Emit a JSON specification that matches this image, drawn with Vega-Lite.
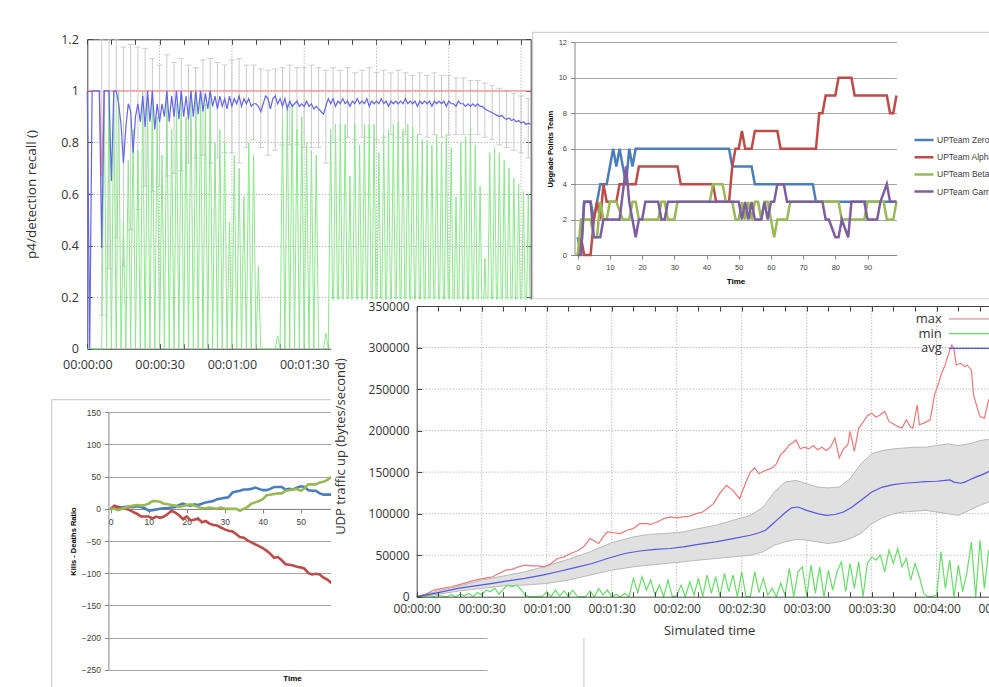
{
"$schema": "https://vega.github.io/schema/vega-lite/v6.json",
"width": 989, "height": 687, "padding": 0, "autosize": {"type": "none"},
"background": "#ffffff",
"config": {"view": {"stroke": null}, "axis": {"labelOverlap": false, "labelFlush": false, "domainWidth": 1, "tickWidth": 1}},
"datasets": {
"A": [{"t":0,"a":1,"m":0},{"t":1,"a":0,"m":0},{"t":2,"a":1,"m":0},{"t":3,"a":1,"m":0},{"t":4,"a":1,"m":0},{"t":5,"a":1,"m":0},{"t":6,"a":0.39,"m":0},{"t":7,"a":1,"m":1},{"t":8,"a":1,"m":0},{"t":9,"a":1,"m":1},{"t":10,"a":0.65,"m":0},{"t":11,"a":1,"m":1},{"t":12,"a":1,"m":0},{"t":13,"a":0.95,"m":1},{"t":14,"a":0.87,"m":0},{"t":15,"a":0.72,"m":0.49},{"t":16,"a":0.86,"m":0},{"t":17,"a":0.95,"m":0.73},{"t":18,"a":0.92,"m":0},{"t":19,"a":0.76,"m":0.85},{"t":20,"a":0.9,"m":0},{"t":21,"a":0.95,"m":0.77},{"t":22,"a":0.88,"m":0},{"t":23,"a":0.98,"m":1},{"t":24,"a":0.86,"m":0},{"t":25,"a":1,"m":1},{"t":26,"a":0.88,"m":0},{"t":27,"a":1,"m":1},{"t":28,"a":0.85,"m":0},{"t":29,"a":0.95,"m":0.9},{"t":30,"a":0.88,"m":0},{"t":31,"a":0.95,"m":0.75},{"t":32,"a":0.9,"m":0},{"t":33,"a":1,"m":1},{"t":34,"a":0.88,"m":0},{"t":35,"a":0.98,"m":0.85},{"t":36,"a":0.9,"m":0},{"t":37,"a":1,"m":0.95},{"t":38,"a":0.89,"m":0},{"t":39,"a":1,"m":1},{"t":40,"a":0.9,"m":0},{"t":41,"a":0.98,"m":0.9},{"t":42,"a":0.89,"m":0},{"t":43,"a":1,"m":1},{"t":44,"a":0.9,"m":0},{"t":45,"a":1,"m":1},{"t":46,"a":0.91,"m":0},{"t":47,"a":1,"m":1},{"t":48,"a":0.92,"m":0},{"t":49,"a":0.99,"m":0.95},{"t":50,"a":0.93,"m":0},{"t":51,"a":1,"m":1},{"t":52,"a":0.94,"m":0},{"t":53,"a":0.98,"m":0.8},{"t":54,"a":0.93,"m":0},{"t":55,"a":0.98,"m":0.85},{"t":56,"a":0.94,"m":0},{"t":57,"a":0.97,"m":0.8},{"t":58,"a":0.93,"m":0},{"t":59,"a":0.98,"m":0.49},{"t":60,"a":0.94,"m":0},{"t":61,"a":0.97,"m":0.75},{"t":62,"a":0.95,"m":0},{"t":63,"a":0.98,"m":0.7},{"t":64,"a":0.94,"m":0},{"t":65,"a":0.97,"m":0.59},{"t":66,"a":0.95,"m":0},{"t":67,"a":0.97,"m":0.8},{"t":68,"a":0.94,"m":0},{"t":69,"a":0.95,"m":0.75},{"t":70,"a":0.95,"m":0},{"t":71,"a":0.94,"m":0.32},{"t":72,"a":0.92,"m":0},{"t":73,"a":0.95,"m":0},{"t":74,"a":0.98,"m":0},{"t":75,"a":0.97,"m":0},{"t":76,"a":0.93,"m":0},{"t":77,"a":0.97,"m":0},{"t":78,"a":0.98,"m":0},{"t":79,"a":0.95,"m":0.05},{"t":80,"a":0.97,"m":0},{"t":81,"a":0.94,"m":0.89},{"t":82,"a":0.97,"m":0},{"t":83,"a":0.93,"m":0.95},{"t":84,"a":0.96,"m":0},{"t":85,"a":0.94,"m":0.95},{"t":86,"a":0.95,"m":0},{"t":87,"a":0.96,"m":0.85},{"t":88,"a":0.94,"m":0},{"t":89,"a":0.95,"m":0.9},{"t":90,"a":0.94,"m":0},{"t":91,"a":0.96,"m":0.8},{"t":92,"a":0.94,"m":0},{"t":93,"a":0.95,"m":0.77},{"t":94,"a":0.93,"m":0},{"t":95,"a":0.94,"m":0.75},{"t":96,"a":0.93,"m":0},{"t":97,"a":0.92,"m":0},{"t":98,"a":0.91,"m":0},{"t":99,"a":0.94,"m":0.06},{"t":100,"a":0.97,"m":0},{"t":101,"a":0.95,"m":0.85},{"t":102,"a":0.97,"m":0},{"t":103,"a":0.94,"m":0.87},{"t":104,"a":0.96,"m":0},{"t":105,"a":0.95,"m":0.87},{"t":106,"a":0.97,"m":0},{"t":107,"a":0.95,"m":0.87},{"t":108,"a":0.96,"m":0},{"t":109,"a":0.94,"m":0.67},{"t":110,"a":0.96,"m":0},{"t":111,"a":0.95,"m":0.87},{"t":112,"a":0.97,"m":0},{"t":113,"a":0.95,"m":0.79},{"t":114,"a":0.96,"m":0},{"t":115,"a":0.95,"m":0.87},{"t":116,"a":0.97,"m":0},{"t":117,"a":0.94,"m":0.87},{"t":118,"a":0.96,"m":0},{"t":119,"a":0.95,"m":0.87},{"t":120,"a":0.96,"m":0},{"t":121,"a":0.95,"m":0.76},{"t":122,"a":0.97,"m":0},{"t":123,"a":0.95,"m":0.83},{"t":124,"a":0.96,"m":0},{"t":125,"a":0.94,"m":0.85},{"t":126,"a":0.96,"m":0},{"t":127,"a":0.95,"m":0.87},{"t":128,"a":0.96,"m":0},{"t":129,"a":0.95,"m":0.88},{"t":130,"a":0.96,"m":0},{"t":131,"a":0.95,"m":0.85},{"t":132,"a":0.97,"m":0},{"t":133,"a":0.95,"m":0.87},{"t":134,"a":0.96,"m":0},{"t":135,"a":0.95,"m":0.86},{"t":136,"a":0.96,"m":0},{"t":137,"a":0.94,"m":0.83},{"t":138,"a":0.96,"m":0},{"t":139,"a":0.95,"m":0.81},{"t":140,"a":0.96,"m":0},{"t":141,"a":0.95,"m":0.81},{"t":142,"a":0.96,"m":0},{"t":143,"a":0.94,"m":0.79},{"t":144,"a":0.96,"m":0},{"t":145,"a":0.95,"m":0.83},{"t":146,"a":0.96,"m":0},{"t":147,"a":0.95,"m":0.8},{"t":148,"a":0.96,"m":0},{"t":149,"a":0.94,"m":0.83},{"t":150,"a":0.96,"m":0},{"t":151,"a":0.95,"m":0.78},{"t":152,"a":0.95,"m":0},{"t":153,"a":0.94,"m":0.59},{"t":154,"a":0.96,"m":0},{"t":155,"a":0.95,"m":0.8},{"t":156,"a":0.95,"m":0},{"t":157,"a":0.94,"m":0.82},{"t":158,"a":0.95,"m":0},{"t":159,"a":0.94,"m":0.86},{"t":160,"a":0.95,"m":0},{"t":161,"a":0.94,"m":0.79},{"t":162,"a":0.95,"m":0},{"t":163,"a":0.94,"m":0.63},{"t":164,"a":0.94,"m":0},{"t":165,"a":0.93,"m":0.35},{"t":166,"a":0.925,"m":0},{"t":167,"a":0.92,"m":0.76},{"t":168,"a":0.915,"m":0},{"t":169,"a":0.91,"m":0.78},{"t":170,"a":0.905,"m":0},{"t":171,"a":0.9,"m":0.76},{"t":172,"a":0.905,"m":0},{"t":173,"a":0.895,"m":0.73},{"t":174,"a":0.89,"m":0},{"t":175,"a":0.895,"m":0.7},{"t":176,"a":0.885,"m":0},{"t":177,"a":0.89,"m":0.66},{"t":178,"a":0.88,"m":0},{"t":179,"a":0.885,"m":0.64},{"t":180,"a":0.875,"m":0},{"t":181,"a":0.88,"m":0.61},{"t":182,"a":0.87,"m":0},{"t":183,"a":0.875,"m":0.6},{"t":184,"a":0.87,"m":0}],
"Ar": [{"t":0,"v":1},{"t":5,"v":1},{"t":6,"v":0.67},{"t":7,"v":1},{"t":184,"v":1}],
"Ag": [{"t":30},{"t":60},{"t":90},{"t":120},{"t":150},{"t":180}],
"Ae": [{"t":6,"lo":0.13,"hi":1.2},{"t":9,"lo":0.31,"hi":1.2},{"t":12,"lo":0.43,"hi":1.2},{"t":15,"lo":0.32,"hi":1.17},{"t":18,"lo":0.46,"hi":1.18},{"t":21,"lo":0.54,"hi":1.17},{"t":24,"lo":0.63,"hi":1.165},{"t":27,"lo":0.61,"hi":1.125},{"t":30,"lo":0.63,"hi":1.1},{"t":33,"lo":0.67,"hi":1.14},{"t":36,"lo":0.68,"hi":1.11},{"t":39,"lo":0.69,"hi":1.125},{"t":42,"lo":0.72,"hi":1.1},{"t":45,"lo":0.74,"hi":1.09},{"t":48,"lo":0.75,"hi":1.12},{"t":51,"lo":0.72,"hi":1.125},{"t":54,"lo":0.74,"hi":1.11},{"t":57,"lo":0.76,"hi":1.1},{"t":60,"lo":0.76,"hi":1.12},{"t":63,"lo":0.72,"hi":1.125},{"t":66,"lo":0.78,"hi":1.1},{"t":69,"lo":0.81,"hi":1.1},{"t":72,"lo":0.78,"hi":1.085},{"t":75,"lo":0.75,"hi":1.08},{"t":78,"lo":0.77,"hi":1.085},{"t":81,"lo":0.79,"hi":1.09},{"t":84,"lo":0.79,"hi":1.1},{"t":87,"lo":0.79,"hi":1.09},{"t":90,"lo":0.78,"hi":1.09},{"t":93,"lo":0.78,"hi":1.1},{"t":96,"lo":0.78,"hi":1.09},{"t":99,"lo":0.72,"hi":1.08},{"t":102,"lo":0.8,"hi":1.09},{"t":105,"lo":0.81,"hi":1.08},{"t":108,"lo":0.82,"hi":1.09},{"t":111,"lo":0.81,"hi":1.07},{"t":114,"lo":0.82,"hi":1.08},{"t":117,"lo":0.82,"hi":1.09},{"t":120,"lo":0.81,"hi":1.07},{"t":123,"lo":0.82,"hi":1.08},{"t":126,"lo":0.83,"hi":1.07},{"t":129,"lo":0.82,"hi":1.08},{"t":132,"lo":0.83,"hi":1.07},{"t":135,"lo":0.82,"hi":1.06},{"t":138,"lo":0.83,"hi":1.07},{"t":141,"lo":0.82,"hi":1.06},{"t":144,"lo":0.83,"hi":1.07},{"t":147,"lo":0.82,"hi":1.06},{"t":150,"lo":0.83,"hi":1.06},{"t":153,"lo":0.83,"hi":1.05},{"t":156,"lo":0.83,"hi":1.05},{"t":159,"lo":0.83,"hi":1.04},{"t":162,"lo":0.83,"hi":1.04},{"t":165,"lo":0.82,"hi":1.03},{"t":168,"lo":0.81,"hi":1.02},{"t":171,"lo":0.79,"hi":1.01},{"t":174,"lo":0.78,"hi":1.0},{"t":177,"lo":0.77,"hi":0.99},{"t":180,"lo":0.76,"hi":0.98},{"t":183,"lo":0.74,"hi":0.97}],
"B": [
{"team":"UPTeam Zero","t":0,"v":1},{"team":"UPTeam Zero","t":1,"v":0},{"team":"UPTeam Zero","t":2,"v":3},{"team":"UPTeam Zero","t":4,"v":3},{"team":"UPTeam Zero","t":5,"v":2},{"team":"UPTeam Zero","t":7,"v":4},{"team":"UPTeam Zero","t":9,"v":4},{"team":"UPTeam Zero","t":11,"v":6},{"team":"UPTeam Zero","t":12,"v":5},{"team":"UPTeam Zero","t":13,"v":6},{"team":"UPTeam Zero","t":15,"v":4},{"team":"UPTeam Zero","t":16,"v":6},{"team":"UPTeam Zero","t":17,"v":5},{"team":"UPTeam Zero","t":18,"v":6},{"team":"UPTeam Zero","t":47,"v":6},{"team":"UPTeam Zero","t":48,"v":5},{"team":"UPTeam Zero","t":54,"v":5},{"team":"UPTeam Zero","t":55,"v":4},{"team":"UPTeam Zero","t":73,"v":4},{"team":"UPTeam Zero","t":74,"v":3},{"team":"UPTeam Zero","t":99,"v":3},
{"team":"UPTeam Alpha","t":0,"v":0},{"team":"UPTeam Alpha","t":1,"v":1},{"team":"UPTeam Alpha","t":2,"v":0},{"team":"UPTeam Alpha","t":4,"v":0},{"team":"UPTeam Alpha","t":5,"v":2},{"team":"UPTeam Alpha","t":6,"v":3},{"team":"UPTeam Alpha","t":7,"v":2},{"team":"UPTeam Alpha","t":8,"v":4},{"team":"UPTeam Alpha","t":9,"v":3},{"team":"UPTeam Alpha","t":12,"v":3},{"team":"UPTeam Alpha","t":13,"v":4},{"team":"UPTeam Alpha","t":18,"v":4},{"team":"UPTeam Alpha","t":19,"v":5},{"team":"UPTeam Alpha","t":31,"v":5},{"team":"UPTeam Alpha","t":32,"v":4},{"team":"UPTeam Alpha","t":42,"v":4},{"team":"UPTeam Alpha","t":43,"v":3},{"team":"UPTeam Alpha","t":47,"v":3},{"team":"UPTeam Alpha","t":48,"v":5},{"team":"UPTeam Alpha","t":49,"v":6},{"team":"UPTeam Alpha","t":50,"v":6},{"team":"UPTeam Alpha","t":51,"v":7},{"team":"UPTeam Alpha","t":52,"v":6},{"team":"UPTeam Alpha","t":54,"v":6},{"team":"UPTeam Alpha","t":55,"v":7},{"team":"UPTeam Alpha","t":62,"v":7},{"team":"UPTeam Alpha","t":63,"v":6},{"team":"UPTeam Alpha","t":74,"v":6},{"team":"UPTeam Alpha","t":75,"v":8},{"team":"UPTeam Alpha","t":76,"v":8},{"team":"UPTeam Alpha","t":77,"v":9},{"team":"UPTeam Alpha","t":80,"v":9},{"team":"UPTeam Alpha","t":81,"v":10},{"team":"UPTeam Alpha","t":85,"v":10},{"team":"UPTeam Alpha","t":86,"v":9},{"team":"UPTeam Alpha","t":96,"v":9},{"team":"UPTeam Alpha","t":97,"v":8},{"team":"UPTeam Alpha","t":98,"v":8},{"team":"UPTeam Alpha","t":99,"v":9},
{"team":"UPTeam Beta","t":0,"v":0},{"team":"UPTeam Beta","t":1,"v":2},{"team":"UPTeam Beta","t":4,"v":2},{"team":"UPTeam Beta","t":5,"v":1},{"team":"UPTeam Beta","t":6,"v":1},{"team":"UPTeam Beta","t":7,"v":3},{"team":"UPTeam Beta","t":8,"v":2},{"team":"UPTeam Beta","t":9,"v":2},{"team":"UPTeam Beta","t":10,"v":3},{"team":"UPTeam Beta","t":12,"v":3},{"team":"UPTeam Beta","t":14,"v":2},{"team":"UPTeam Beta","t":16,"v":2},{"team":"UPTeam Beta","t":17,"v":3},{"team":"UPTeam Beta","t":18,"v":3},{"team":"UPTeam Beta","t":19,"v":2},{"team":"UPTeam Beta","t":25,"v":2},{"team":"UPTeam Beta","t":26,"v":3},{"team":"UPTeam Beta","t":27,"v":3},{"team":"UPTeam Beta","t":28,"v":2},{"team":"UPTeam Beta","t":30,"v":2},{"team":"UPTeam Beta","t":31,"v":3},{"team":"UPTeam Beta","t":41,"v":3},{"team":"UPTeam Beta","t":42,"v":4},{"team":"UPTeam Beta","t":45,"v":4},{"team":"UPTeam Beta","t":46,"v":3},{"team":"UPTeam Beta","t":48,"v":3},{"team":"UPTeam Beta","t":49,"v":2},{"team":"UPTeam Beta","t":50,"v":2},{"team":"UPTeam Beta","t":51,"v":3},{"team":"UPTeam Beta","t":52,"v":2},{"team":"UPTeam Beta","t":53,"v":3},{"team":"UPTeam Beta","t":54,"v":2},{"team":"UPTeam Beta","t":55,"v":3},{"team":"UPTeam Beta","t":56,"v":3},{"team":"UPTeam Beta","t":57,"v":2},{"team":"UPTeam Beta","t":58,"v":3},{"team":"UPTeam Beta","t":59,"v":3},{"team":"UPTeam Beta","t":60,"v":2},{"team":"UPTeam Beta","t":61,"v":1},{"team":"UPTeam Beta","t":62,"v":2},{"team":"UPTeam Beta","t":65,"v":2},{"team":"UPTeam Beta","t":66,"v":3},{"team":"UPTeam Beta","t":81,"v":3},{"team":"UPTeam Beta","t":82,"v":2},{"team":"UPTeam Beta","t":89,"v":2},{"team":"UPTeam Beta","t":90,"v":3},{"team":"UPTeam Beta","t":95,"v":3},{"team":"UPTeam Beta","t":96,"v":2},{"team":"UPTeam Beta","t":98,"v":2},{"team":"UPTeam Beta","t":99,"v":3},
{"team":"UPTeam Gamma","t":0,"v":0},{"team":"UPTeam Gamma","t":1,"v":0},{"team":"UPTeam Gamma","t":2,"v":3},{"team":"UPTeam Gamma","t":4,"v":3},{"team":"UPTeam Gamma","t":5,"v":1},{"team":"UPTeam Gamma","t":7,"v":1},{"team":"UPTeam Gamma","t":8,"v":2},{"team":"UPTeam Gamma","t":13,"v":2},{"team":"UPTeam Gamma","t":15,"v":5},{"team":"UPTeam Gamma","t":16,"v":3},{"team":"UPTeam Gamma","t":17,"v":2},{"team":"UPTeam Gamma","t":18,"v":1},{"team":"UPTeam Gamma","t":19,"v":2},{"team":"UPTeam Gamma","t":20,"v":2},{"team":"UPTeam Gamma","t":21,"v":3},{"team":"UPTeam Gamma","t":25,"v":3},{"team":"UPTeam Gamma","t":26,"v":2},{"team":"UPTeam Gamma","t":27,"v":2},{"team":"UPTeam Gamma","t":28,"v":3},{"team":"UPTeam Gamma","t":50,"v":3},{"team":"UPTeam Gamma","t":51,"v":2},{"team":"UPTeam Gamma","t":52,"v":3},{"team":"UPTeam Gamma","t":53,"v":2},{"team":"UPTeam Gamma","t":54,"v":3},{"team":"UPTeam Gamma","t":55,"v":2},{"team":"UPTeam Gamma","t":57,"v":2},{"team":"UPTeam Gamma","t":58,"v":3},{"team":"UPTeam Gamma","t":59,"v":2},{"team":"UPTeam Gamma","t":60,"v":3},{"team":"UPTeam Gamma","t":61,"v":3},{"team":"UPTeam Gamma","t":62,"v":4},{"team":"UPTeam Gamma","t":64,"v":4},{"team":"UPTeam Gamma","t":65,"v":3},{"team":"UPTeam Gamma","t":76,"v":3},{"team":"UPTeam Gamma","t":77,"v":2},{"team":"UPTeam Gamma","t":78,"v":2},{"team":"UPTeam Gamma","t":80,"v":1},{"team":"UPTeam Gamma","t":81,"v":1},{"team":"UPTeam Gamma","t":82,"v":2},{"team":"UPTeam Gamma","t":84,"v":1},{"team":"UPTeam Gamma","t":85,"v":3},{"team":"UPTeam Gamma","t":89,"v":3},{"team":"UPTeam Gamma","t":90,"v":2},{"team":"UPTeam Gamma","t":93,"v":2},{"team":"UPTeam Gamma","t":94,"v":3},{"team":"UPTeam Gamma","t":96,"v":4},{"team":"UPTeam Gamma","t":97,"v":3},{"team":"UPTeam Gamma","t":99,"v":3}],
"C": [{"t":0,"b":0,"g":0,"r":0},{"t":1,"b":1,"g":0,"r":5},{"t":2,"b":2,"g":-2,"r":3},{"t":3,"b":2,"g":0,"r":1},{"t":4,"b":3,"g":2,"r":0},{"t":5,"b":3,"g":4,"r":-2},{"t":6,"b":3,"g":5,"r":-5},{"t":7,"b":4,"g":6,"r":-8},{"t":8,"b":3,"g":5,"r":-12},{"t":9,"b":1,"g":6,"r":-12},{"t":10,"b":-3,"g":8,"r":-12},{"t":11,"b":-2,"g":12,"r":-15},{"t":12,"b":-1,"g":12,"r":-12},{"t":13,"b":0,"g":11,"r":-14},{"t":14,"b":1,"g":8,"r":-12},{"t":15,"b":1,"g":7,"r":-8},{"t":16,"b":2,"g":6,"r":-3},{"t":17,"b":3,"g":5,"r":-6},{"t":18,"b":6,"g":3,"r":-10},{"t":19,"b":8,"g":4,"r":-16},{"t":20,"b":6,"g":6,"r":-12},{"t":21,"b":5,"g":7,"r":-18},{"t":22,"b":7,"g":5,"r":-17},{"t":23,"b":6,"g":3,"r":-15},{"t":24,"b":8,"g":1,"r":-21},{"t":25,"b":10,"g":1,"r":-19},{"t":26,"b":11,"g":2,"r":-23},{"t":27,"b":12,"g":1,"r":-25},{"t":28,"b":15,"g":0,"r":-26},{"t":29,"b":16,"g":2,"r":-29},{"t":30,"b":17,"g":0,"r":-32},{"t":31,"b":18,"g":0,"r":-34},{"t":32,"b":25,"g":0,"r":-35},{"t":33,"b":27,"g":0,"r":-39},{"t":34,"b":28,"g":-3,"r":-44},{"t":35,"b":30,"g":0,"r":-45},{"t":36,"b":30,"g":3,"r":-49},{"t":37,"b":31,"g":8,"r":-52},{"t":38,"b":33,"g":10,"r":-55},{"t":39,"b":31,"g":12,"r":-58},{"t":40,"b":29,"g":15,"r":-61},{"t":41,"b":29,"g":21,"r":-65},{"t":42,"b":31,"g":22,"r":-70},{"t":43,"b":34,"g":23,"r":-76},{"t":44,"b":34,"g":24,"r":-75},{"t":45,"b":34,"g":24,"r":-80},{"t":46,"b":30,"g":28,"r":-86},{"t":47,"b":31,"g":29,"r":-87},{"t":48,"b":30,"g":30,"r":-88},{"t":49,"b":33,"g":31,"r":-90},{"t":50,"b":35,"g":28,"r":-91},{"t":51,"b":34,"g":32,"r":-93},{"t":52,"b":29,"g":38,"r":-100},{"t":53,"b":28,"g":38,"r":-102},{"t":54,"b":28,"g":38,"r":-101},{"t":55,"b":24,"g":41,"r":-102},{"t":56,"b":22,"g":42,"r":-107},{"t":57,"b":22,"g":45,"r":-110},{"t":58,"b":22,"g":49,"r":-115},{"t":59,"b":22,"g":50,"r":-117},{"t":60,"b":22,"g":52,"r":-120}],
"Dg": [{"t":30},{"t":60},{"t":90},{"t":120},{"t":150},{"t":180},{"t":210},{"t":240},{"t":270}],
"Dgy": [{"v":50000},{"v":100000},{"v":150000},{"v":200000},{"v":250000},{"v":300000}],
"Dl": [{"s":"max","t":0,"v":0},{"s":"max","t":4,"v":3000},{"s":"max","t":8,"v":8000},{"s":"max","t":12,"v":10000},{"s":"max","t":16,"v":12000},{"s":"max","t":19,"v":14000},{"s":"max","t":23,"v":17000},{"s":"max","t":27,"v":20000},{"s":"max","t":31,"v":22000},{"s":"max","t":35,"v":24000},{"s":"max","t":38,"v":28000},{"s":"max","t":41,"v":32000},{"s":"max","t":44,"v":33000},{"s":"max","t":47,"v":36000},{"s":"max","t":50,"v":38000},{"s":"max","t":53,"v":37000},{"s":"max","t":56,"v":37000},{"s":"max","t":59,"v":36000},{"s":"max","t":62,"v":40000},{"s":"max","t":65,"v":46000},{"s":"max","t":68,"v":48000},{"s":"max","t":71,"v":52000},{"s":"max","t":74,"v":55000},{"s":"max","t":77,"v":60000},{"s":"max","t":80,"v":70000},{"s":"max","t":82,"v":67000},{"s":"max","t":84,"v":64000},{"s":"max","t":86,"v":72000},{"s":"max","t":88,"v":78000},{"s":"max","t":91,"v":77000},{"s":"max","t":94,"v":76000},{"s":"max","t":97,"v":80000},{"s":"max","t":100,"v":82000},{"s":"max","t":103,"v":88000},{"s":"max","t":106,"v":88000},{"s":"max","t":108,"v":87000},{"s":"max","t":111,"v":90000},{"s":"max","t":114,"v":94000},{"s":"max","t":117,"v":96000},{"s":"max","t":120,"v":95000},{"s":"max","t":123,"v":96000},{"s":"max","t":126,"v":97000},{"s":"max","t":129,"v":100000},{"s":"max","t":132,"v":102000},{"s":"max","t":135,"v":108000},{"s":"max","t":137,"v":112000},{"s":"max","t":140,"v":125000},{"s":"max","t":143,"v":134000},{"s":"max","t":146,"v":128000},{"s":"max","t":149,"v":118000},{"s":"max","t":152,"v":138000},{"s":"max","t":154,"v":150000},{"s":"max","t":156,"v":155000},{"s":"max","t":158,"v":148000},{"s":"max","t":160,"v":151000},{"s":"max","t":162,"v":153000},{"s":"max","t":164,"v":155000},{"s":"max","t":166,"v":160000},{"s":"max","t":168,"v":171000},{"s":"max","t":170,"v":176000},{"s":"max","t":172,"v":183000},{"s":"max","t":174,"v":186000},{"s":"max","t":175,"v":189000},{"s":"max","t":177,"v":178000},{"s":"max","t":179,"v":180000},{"s":"max","t":181,"v":178000},{"s":"max","t":183,"v":182000},{"s":"max","t":185,"v":177000},{"s":"max","t":187,"v":180000},{"s":"max","t":189,"v":176000},{"s":"max","t":191,"v":180000},{"s":"max","t":193,"v":191000},{"s":"max","t":195,"v":167000},{"s":"max","t":197,"v":178000},{"s":"max","t":199,"v":183000},{"s":"max","t":200,"v":199000},{"s":"max","t":202,"v":175000},{"s":"max","t":204,"v":203000},{"s":"max","t":206,"v":210000},{"s":"max","t":208,"v":218000},{"s":"max","t":210,"v":221000},{"s":"max","t":212,"v":216000},{"s":"max","t":214,"v":219000},{"s":"max","t":216,"v":223000},{"s":"max","t":218,"v":211000},{"s":"max","t":220,"v":208000},{"s":"max","t":222,"v":205000},{"s":"max","t":224,"v":203000},{"s":"max","t":226,"v":213000},{"s":"max","t":228,"v":204000},{"s":"max","t":229,"v":203000},{"s":"max","t":231,"v":231000},{"s":"max","t":232,"v":207000},{"s":"max","t":234,"v":209000},{"s":"max","t":237,"v":213000},{"s":"max","t":239,"v":243000},{"s":"max","t":241,"v":258000},{"s":"max","t":242,"v":267000},{"s":"max","t":244,"v":280000},{"s":"max","t":245,"v":289000},{"s":"max","t":247,"v":303000},{"s":"max","t":248,"v":298000},{"s":"max","t":249,"v":279000},{"s":"max","t":251,"v":281000},{"s":"max","t":253,"v":277000},{"s":"max","t":254,"v":279000},{"s":"max","t":256,"v":273000},{"s":"max","t":257,"v":243000},{"s":"max","t":259,"v":225000},{"s":"max","t":260,"v":217000},{"s":"max","t":262,"v":215000},{"s":"max","t":264,"v":237000},{"s":"max","t":266,"v":245000},
{"s":"min","t":0,"v":0},{"s":"min","t":2,"v":500},{"s":"min","t":4,"v":0},{"s":"min","t":6,"v":1500},{"s":"min","t":8,"v":0},{"s":"min","t":10,"v":2000},{"s":"min","t":12,"v":500},{"s":"min","t":14,"v":0},{"s":"min","t":16,"v":2500},{"s":"min","t":18,"v":0},{"s":"min","t":20,"v":3000},{"s":"min","t":22,"v":1000},{"s":"min","t":24,"v":4000},{"s":"min","t":26,"v":0},{"s":"min","t":28,"v":5000},{"s":"min","t":30,"v":2000},{"s":"min","t":32,"v":8000},{"s":"min","t":34,"v":6000},{"s":"min","t":36,"v":10000},{"s":"min","t":38,"v":3000},{"s":"min","t":40,"v":9000},{"s":"min","t":42,"v":14000},{"s":"min","t":44,"v":12000},{"s":"min","t":46,"v":14000},{"s":"min","t":48,"v":9000},{"s":"min","t":50,"v":2000},{"s":"min","t":52,"v":0},{"s":"min","t":54,"v":0},{"s":"min","t":56,"v":500},{"s":"min","t":58,"v":0},{"s":"min","t":60,"v":6000},{"s":"min","t":62,"v":0},{"s":"min","t":64,"v":8000},{"s":"min","t":66,"v":1000},{"s":"min","t":68,"v":7000},{"s":"min","t":70,"v":0},{"s":"min","t":72,"v":8000},{"s":"min","t":74,"v":500},{"s":"min","t":76,"v":0},{"s":"min","t":78,"v":0},{"s":"min","t":80,"v":7000},{"s":"min","t":82,"v":0},{"s":"min","t":84,"v":10000},{"s":"min","t":86,"v":2000},{"s":"min","t":88,"v":8000},{"s":"min","t":90,"v":0},{"s":"min","t":92,"v":3000},{"s":"min","t":94,"v":0},{"s":"min","t":96,"v":4000},{"s":"min","t":98,"v":0},{"s":"min","t":100,"v":22000},{"s":"min","t":102,"v":5000},{"s":"min","t":104,"v":24000},{"s":"min","t":106,"v":8000},{"s":"min","t":108,"v":20000},{"s":"min","t":110,"v":2000},{"s":"min","t":112,"v":14000},{"s":"min","t":114,"v":0},{"s":"min","t":116,"v":20000},{"s":"min","t":118,"v":0},{"s":"min","t":120,"v":1000},{"s":"min","t":122,"v":14000},{"s":"min","t":124,"v":0},{"s":"min","t":126,"v":18000},{"s":"min","t":128,"v":2000},{"s":"min","t":130,"v":22000},{"s":"min","t":132,"v":0},{"s":"min","t":134,"v":26000},{"s":"min","t":136,"v":4000},{"s":"min","t":138,"v":24000},{"s":"min","t":140,"v":0},{"s":"min","t":142,"v":28000},{"s":"min","t":144,"v":6000},{"s":"min","t":146,"v":26000},{"s":"min","t":148,"v":0},{"s":"min","t":150,"v":30000},{"s":"min","t":152,"v":0},{"s":"min","t":154,"v":0},{"s":"min","t":156,"v":30000},{"s":"min","t":158,"v":5000},{"s":"min","t":160,"v":22000},{"s":"min","t":162,"v":2000},{"s":"min","t":164,"v":10000},{"s":"min","t":166,"v":0},{"s":"min","t":168,"v":16000},{"s":"min","t":170,"v":2000},{"s":"min","t":172,"v":34000},{"s":"min","t":174,"v":0},{"s":"min","t":176,"v":30000},{"s":"min","t":178,"v":36000},{"s":"min","t":180,"v":0},{"s":"min","t":182,"v":38000},{"s":"min","t":184,"v":4000},{"s":"min","t":186,"v":36000},{"s":"min","t":188,"v":0},{"s":"min","t":190,"v":32000},{"s":"min","t":192,"v":8000},{"s":"min","t":194,"v":30000},{"s":"min","t":196,"v":42000},{"s":"min","t":198,"v":6000},{"s":"min","t":200,"v":40000},{"s":"min","t":202,"v":10000},{"s":"min","t":204,"v":42000},{"s":"min","t":206,"v":0},{"s":"min","t":208,"v":40000},{"s":"min","t":210,"v":48000},{"s":"min","t":212,"v":44000},{"s":"min","t":214,"v":50000},{"s":"min","t":216,"v":30000},{"s":"min","t":218,"v":56000},{"s":"min","t":220,"v":40000},{"s":"min","t":222,"v":58000},{"s":"min","t":224,"v":36000},{"s":"min","t":226,"v":46000},{"s":"min","t":228,"v":20000},{"s":"min","t":230,"v":40000},{"s":"min","t":232,"v":24000},{"s":"min","t":234,"v":4000},{"s":"min","t":236,"v":0},{"s":"min","t":238,"v":0},{"s":"min","t":240,"v":2000},{"s":"min","t":242,"v":54000},{"s":"min","t":244,"v":10000},{"s":"min","t":246,"v":44000},{"s":"min","t":248,"v":0},{"s":"min","t":250,"v":38000},{"s":"min","t":252,"v":6000},{"s":"min","t":254,"v":30000},{"s":"min","t":256,"v":66000},{"s":"min","t":258,"v":0},{"s":"min","t":260,"v":68000},{"s":"min","t":262,"v":10000},{"s":"min","t":264,"v":56000},
{"s":"avg","t":0,"v":0},{"s":"avg","t":10,"v":5000},{"s":"avg","t":19,"v":10000},{"s":"avg","t":27,"v":13000},{"s":"avg","t":35,"v":16000},{"s":"avg","t":42,"v":19000},{"s":"avg","t":50,"v":22000},{"s":"avg","t":58,"v":26000},{"s":"avg","t":65,"v":30000},{"s":"avg","t":73,"v":35000},{"s":"avg","t":81,"v":40000},{"s":"avg","t":88,"v":46000},{"s":"avg","t":96,"v":52000},{"s":"avg","t":103,"v":55000},{"s":"avg","t":110,"v":57000},{"s":"avg","t":117,"v":58000},{"s":"avg","t":123,"v":60000},{"s":"avg","t":130,"v":63000},{"s":"avg","t":138,"v":66000},{"s":"avg","t":146,"v":70000},{"s":"avg","t":154,"v":74000},{"s":"avg","t":158,"v":77000},{"s":"avg","t":161,"v":80000},{"s":"avg","t":164,"v":87000},{"s":"avg","t":167,"v":94000},{"s":"avg","t":170,"v":101000},{"s":"avg","t":173,"v":107000},{"s":"avg","t":176,"v":108000},{"s":"avg","t":180,"v":104000},{"s":"avg","t":185,"v":100000},{"s":"avg","t":189,"v":98000},{"s":"avg","t":193,"v":99000},{"s":"avg","t":197,"v":102000},{"s":"avg","t":201,"v":108000},{"s":"avg","t":206,"v":118000},{"s":"avg","t":210,"v":126000},{"s":"avg","t":215,"v":132000},{"s":"avg","t":220,"v":135000},{"s":"avg","t":225,"v":136600},{"s":"avg","t":230,"v":137500},{"s":"avg","t":235,"v":138600},{"s":"avg","t":240,"v":139000},{"s":"avg","t":244,"v":140000},{"s":"avg","t":246,"v":140600},{"s":"avg","t":248,"v":138000},{"s":"avg","t":251,"v":136600},{"s":"avg","t":253,"v":138000},{"s":"avg","t":255,"v":140600},{"s":"avg","t":258,"v":144000},{"s":"avg","t":261,"v":147000},{"s":"avg","t":264,"v":150600},{"s":"avg","t":267,"v":153000}],
"Dband": [{"t":0,"lo":0,"hi":0},{"t":10,"lo":3000,"hi":7000},{"t":20,"lo":7000,"hi":13000},{"t":30,"lo":10000,"hi":20000},{"t":40,"lo":13000,"hi":25000},{"t":50,"lo":14000,"hi":30000},{"t":60,"lo":16000,"hi":37000},{"t":70,"lo":20000,"hi":45000},{"t":80,"lo":26000,"hi":54000},{"t":90,"lo":32000,"hi":65000},{"t":100,"lo":36000,"hi":72000},{"t":107,"lo":38000,"hi":75000},{"t":115,"lo":40000,"hi":76000},{"t":123,"lo":42000,"hi":78000},{"t":130,"lo":44000,"hi":82000},{"t":138,"lo":46000,"hi":86000},{"t":146,"lo":48000,"hi":92000},{"t":154,"lo":50000,"hi":98000},{"t":160,"lo":54000,"hi":108000},{"t":165,"lo":62000,"hi":126000},{"t":170,"lo":66000,"hi":138000},{"t":175,"lo":69000,"hi":140000},{"t":180,"lo":68000,"hi":136000},{"t":185,"lo":66000,"hi":132000},{"t":190,"lo":64000,"hi":131000},{"t":195,"lo":66000,"hi":132000},{"t":200,"lo":70000,"hi":142000},{"t":205,"lo":76000,"hi":160000},{"t":210,"lo":88000,"hi":172000},{"t":215,"lo":95000,"hi":176000},{"t":220,"lo":100000,"hi":178000},{"t":225,"lo":102000,"hi":179000},{"t":230,"lo":103000,"hi":180000},{"t":235,"lo":104000,"hi":180000},{"t":240,"lo":102000,"hi":182000},{"t":245,"lo":100000,"hi":184000},{"t":250,"lo":98000,"hi":182000},{"t":255,"lo":104000,"hi":184000},{"t":260,"lo":110000,"hi":188000},{"t":265,"lo":115000,"hi":190000}]
},
"resolve": {"scale": {"x": "independent", "y": "independent", "color": "independent"}, "axis": {"x": "independent", "y": "independent"}, "legend": {"color": "independent"}},
"layer": [
{
 "resolve": {"axis": {"x": "independent", "y": "independent"}},
 "layer": [
  {"data": {"name": "Ag"}, "mark": {"type": "rule", "color": "#a0a0a0", "strokeWidth": 1, "strokeDash": [1, 2]},
   "encoding": {
    "x": {"field": "t", "type": "quantitative", "scale": {"domain": [0, 184], "range": [87.3, 530.7], "nice": false, "zero": false},
      "axis": {"orient": "bottom", "offset": -338.3, "values": [0,10,20,30,40,50,60,70,80,90,100,110,120,130,140,150,160,170,180], "labelExpr": "datum.value % 30 == 0 && datum.value <= 90 ? '00:0' + floor(datum.value / 60) + ':' + (datum.value % 60 == 0 ? '00' : '30') : ''", "tickSize": -5, "labelPadding": 15, "labelFont": "Open Sans", "labelFontSize": 12.5, "labelColor": "#333333", "domainColor": "#444444", "tickColor": "#444444", "grid": false, "title": null}},
    "y": {"datum": 0, "type": "quantitative", "scale": {"domain": [0, 1.2], "range": [348.7, 39.3], "nice": false, "zero": false},
      "axis": {"orient": "left", "offset": -87.3, "values": [0, 0.2, 0.4, 0.6, 0.8, 1, 1.2], "format": "~g", "tickSize": -5, "labelPadding": 14, "labelFont": "Open Sans", "labelFontSize": 12.5, "labelColor": "#333333", "domainColor": "#444444", "tickColor": "#444444", "grid": true, "gridColor": "#a0a0a0", "gridDash": [1, 2], "title": "p4/detection recall ()", "titleFont": "Open Sans", "titleFontSize": 13.5, "titleFontWeight": "normal", "titleColor": "#333333", "titleX": -56, "titleBaseline": "middle"}},
    "y2": {"datum": 1.2}
   }},
  {"data": {"name": "Ae"}, "mark": {"type": "rule", "color": "#c9c9c9", "strokeWidth": 1},
   "encoding": {"x": {"field": "t", "type": "quantitative", "axis": null}, "y": {"field": "lo", "type": "quantitative", "axis": null}, "y2": {"field": "hi"}}},
  {"data": {"name": "Ae"}, "mark": {"type": "tick", "orient": "horizontal", "color": "#bdbdbd", "size": 6, "thickness": 1},
   "encoding": {"x": {"field": "t", "type": "quantitative", "axis": null}, "y": {"field": "lo", "type": "quantitative", "axis": null}}},
  {"data": {"name": "Ae"}, "mark": {"type": "tick", "orient": "horizontal", "color": "#bdbdbd", "size": 6, "thickness": 1},
   "encoding": {"x": {"field": "t", "type": "quantitative", "axis": null}, "y": {"field": "hi", "type": "quantitative", "axis": null}}},
  {"data": {"name": "A"}, "mark": {"type": "line", "color": "#8de68d", "strokeWidth": 1},
   "encoding": {"x": {"field": "t", "type": "quantitative", "axis": null}, "y": {"field": "m", "type": "quantitative", "axis": null}}},
  {"data": {"name": "Ar"}, "mark": {"type": "line", "color": "#ff8c8c", "strokeWidth": 1.4},
   "encoding": {
    "x": {"field": "t", "type": "quantitative", "axis": {"orient": "top", "offset": -39.3, "values": [0,10,20,30,40,50,60,70,80,90,100,110,120,130,140,150,160,170,180], "labels": false, "tickSize": -5, "domainColor": "#444444", "tickColor": "#444444", "grid": false, "title": null}},
    "y": {"field": "v", "type": "quantitative", "axis": {"orient": "right", "offset": -458.3, "values": [0, 0.2, 0.4, 0.6, 0.8, 1, 1.2], "labels": false, "tickSize": -5, "grid": false, "domainColor": "#444444", "tickColor": "#444444", "title": null}}}},
  {"data": {"name": "A"}, "mark": {"type": "line", "color": "#6464ec", "strokeWidth": 1.2},
   "encoding": {"x": {"field": "t", "type": "quantitative", "axis": null}, "y": {"field": "a", "type": "quantitative", "axis": null}}}
 ]
},
{
 "resolve": {"axis": {"x": "independent", "y": "independent"}},
 "layer": [
  {"data": {"values": [{}]}, "mark": {"type": "rect", "fill": "transparent", "stroke": "#c4c4c4", "strokeWidth": 1},
   "encoding": {
    "x": {"datum": -15.5, "type": "quantitative", "scale": {"domain": [-0.6, 99], "range": [108.4, 487], "nice": false, "zero": false},
      "axis": {"orient": "bottom", "offset": -178.1, "values": [0,10,20,30,40,50], "tickSize": 4, "labelPadding": 5, "labelFont": "Liberation Sans", "labelFontSize": 8.5, "labelColor": "#404040", "domainColor": "#868686", "tickColor": "#868686", "grid": false, "title": "Time", "titleFont": "Liberation Sans", "titleFontSize": 8, "titleFontWeight": "bold", "titleColor": "#000000", "titleX": 292, "titleY": 169.4, "titleBaseline": "middle"}},
    "x2": {"datum": 124.5},
    "y": {"datum": -297, "type": "quantitative", "scale": {"domain": [-250, 150], "range": [669.7, 412.3], "nice": false, "zero": false},
      "axis": {"orient": "left", "offset": -108.4, "values": [-250,-200,-150,-100,-50,0,50,100,150], "tickSize": 4, "labelPadding": 4, "labelFont": "Liberation Sans", "labelFontSize": 8.5, "labelColor": "#404040", "domainColor": "#868686", "tickColor": "#868686", "grid": true, "gridColor": "#a6a6a6", "title": "Kills - Deaths Ratio", "titleFont": "Liberation Sans", "titleFontSize": 7.5, "titleFontWeight": "bold", "titleColor": "#000000", "titleX": -35, "titleBaseline": "middle"}},
    "y2": {"datum": 169.6}
   }},
  {"data": {"name": "C"}, "mark": {"type": "line", "color": "#4a7ebb", "strokeWidth": 2.6},
   "encoding": {"x": {"field": "t", "type": "quantitative", "axis": null}, "y": {"field": "b", "type": "quantitative", "axis": null}}},
  {"data": {"name": "C"}, "mark": {"type": "line", "color": "#be4b48", "strokeWidth": 2.6},
   "encoding": {"x": {"field": "t", "type": "quantitative", "axis": null}, "y": {"field": "r", "type": "quantitative", "axis": null}}},
  {"data": {"name": "C"}, "mark": {"type": "line", "color": "#98b954", "strokeWidth": 2.6},
   "encoding": {"x": {"field": "t", "type": "quantitative", "axis": null}, "y": {"field": "g", "type": "quantitative", "axis": null}}}
 ]
},
{
 "resolve": {"axis": {"x": "independent", "y": "independent"}},
 "layer": [
  {"data": {"values": [{}]}, "mark": {"type": "rect", "fill": "transparent", "stroke": "#c4c4c4", "strokeWidth": 1},
   "encoding": {
    "x": {"datum": -13.98, "type": "quantitative", "scale": {"domain": [-1, 99], "range": [574.5, 896.5], "nice": false, "zero": false},
      "axis": {"orient": "bottom", "offset": -432, "values": [0,10,20,30,40,50,60,70,80,90], "tickSize": 4, "labelPadding": 4, "labelFont": "Liberation Sans", "labelFontSize": 7.5, "labelColor": "#404040", "domainColor": "#868686", "tickColor": "#868686", "grid": false, "title": "Time", "titleFont": "Liberation Sans", "titleFontSize": 8, "titleFontWeight": "bold", "titleColor": "#000000", "titleY": 26.7, "titleBaseline": "middle"}},
    "x2": {"datum": 162},
    "y": {"datum": -2.48, "type": "quantitative", "scale": {"domain": [0, 12], "range": [255, 42.4], "nice": false, "zero": false},
      "axis": {"orient": "left", "offset": -574.5, "values": [0,2,4,6,8,10,12], "tickSize": 4, "labelPadding": 4, "labelFont": "Liberation Sans", "labelFontSize": 7.5, "labelColor": "#404040", "domainColor": "#868686", "tickColor": "#868686", "grid": true, "gridColor": "#a6a6a6", "title": "Upgrade Points Team", "titleFont": "Liberation Sans", "titleFontSize": 7.5, "titleFontWeight": "bold", "titleColor": "#000000", "titleX": -24.5, "titleBaseline": "middle"}},
    "y2": {"datum": 12.57}
   }},
  {"data": {"name": "B"}, "mark": {"type": "line", "strokeWidth": 2.5},
   "encoding": {
    "x": {"field": "t", "type": "quantitative", "axis": null},
    "y": {"field": "v", "type": "quantitative", "axis": null},
    "color": {"field": "team", "type": "nominal", "scale": {"domain": ["UPTeam Zero", "UPTeam Alpha", "UPTeam Beta", "UPTeam Gamma"], "range": ["#4a7ebb", "#be4b48", "#98b954", "#7d5fa0"]},
      "legend": {"orient": "none", "legendX": 913, "legendY": 134, "title": null, "padding": 0, "symbolType": "stroke", "symbolSize": 361, "symbolStrokeWidth": 2.5, "labelFont": "Liberation Sans", "labelFontSize": 8.5, "labelColor": "#404040", "labelOffset": 2, "clipHeight": 12, "rowPadding": 5.2}}
   }}
 ]
},
{
 "resolve": {"axis": {"x": "independent", "y": "independent"}},
 "layer": [
  {"data": {"values": [{}]}, "mark": {"type": "rect", "fill": "#ffffff", "stroke": null},
   "encoding": {
    "x": {"datum": -39.5, "type": "quantitative", "scale": {"domain": [0, 270], "range": [416.7, 1001.7], "nice": false, "zero": false},
      "axis": {"orient": "bottom", "offset": -90.3, "zindex": 1, "values": [0,10,20,30,40,50,60,70,80,90,100,110,120,130,140,150,160,170,180,190,200,210,220,230,240,250,260,270], "labelExpr": "datum.value % 30 == 0 ? '00:0' + floor(datum.value / 60) + ':' + (datum.value % 60 == 0 ? '00' : '30') : ''", "tickSize": -5, "labelPadding": 12, "labelFont": "Open Sans", "labelFontSize": 12, "labelColor": "#333333", "domainColor": "#444444", "tickColor": "#444444", "grid": false, "title": "Simulated time", "titleFont": "Open Sans", "titleFontSize": 13, "titleFontWeight": "normal", "titleColor": "#333333", "titleY": 34, "titleBaseline": "middle"}},
    "x2": {"datum": 320},
    "y": {"datum": -49725, "type": "quantitative", "scale": {"domain": [0, 350000], "range": [596.7, 306], "nice": false, "zero": false},
      "axis": {"orient": "left", "offset": -416.7, "zindex": 1, "values": [0,50000,100000,150000,200000,250000,300000,350000], "format": "d", "tickSize": -5, "labelPadding": 12.5, "labelFont": "Open Sans", "labelFontSize": 12, "labelColor": "#333333", "domainColor": "#444444", "tickColor": "#444444", "grid": false, "title": "UDP traffic up (bytes/second)", "titleFont": "Open Sans", "titleFontSize": 13, "titleFontWeight": "normal", "titleColor": "#333333", "titleX": -76.7, "titleY": 446, "titleBaseline": "middle"}},
    "y2": {"datum": 357830}
   }},
  {"data": {"name": "Dg"}, "mark": {"type": "rule", "color": "#a0a0a0", "strokeWidth": 1, "strokeDash": [1, 2]},
   "encoding": {"x": {"field": "t", "type": "quantitative", "axis": null}, "y": {"datum": 0, "type": "quantitative", "axis": null}, "y2": {"datum": 350000}}},
  {"data": {"name": "Dgy"}, "mark": {"type": "rule", "color": "#a0a0a0", "strokeWidth": 1, "strokeDash": [1, 2]},
   "encoding": {"y": {"field": "v", "type": "quantitative", "axis": null}, "x": {"datum": 0, "type": "quantitative", "axis": null}, "x2": {"datum": 270}}},
  {"data": {"name": "Dband"}, "mark": {"type": "area", "color": "#e0e0e0", "opacity": 1},
   "encoding": {"x": {"field": "t", "type": "quantitative", "axis": null}, "y": {"field": "lo", "type": "quantitative", "axis": null}, "y2": {"field": "hi"}}},
  {"data": {"name": "Dband"}, "mark": {"type": "line", "color": "#b9b9b9", "strokeWidth": 1},
   "encoding": {"x": {"field": "t", "type": "quantitative", "axis": null}, "y": {"field": "lo", "type": "quantitative", "axis": null}}},
  {"data": {"name": "Dband"}, "mark": {"type": "line", "color": "#b9b9b9", "strokeWidth": 1},
   "encoding": {"x": {"field": "t", "type": "quantitative", "axis": {"orient": "top", "offset": -306, "zindex": 1, "values": [0,10,20,30,40,50,60,70,80,90,100,110,120,130,140,150,160,170,180,190,200,210,220,230,240,250,260,270], "labels": false, "tickSize": -5, "domainColor": "#444444", "tickColor": "#444444", "grid": false, "title": null}}, "y": {"field": "hi", "type": "quantitative", "axis": null}}},
  {"data": {"name": "Dl"}, "mark": {"type": "line", "strokeWidth": 1.2},
   "encoding": {
    "x": {"field": "t", "type": "quantitative", "axis": null},
    "y": {"field": "v", "type": "quantitative", "axis": null},
    "color": {"field": "s", "type": "nominal", "scale": {"domain": ["max", "min", "avg"], "range": ["#ee7777", "#66dd66", "#5555e6"]},
      "legend": {"orient": "none", "legendX": 947.4, "legendY": 312.5, "zindex": 2, "title": null, "padding": 0, "symbolType": "M-1,0H9.4", "symbolSize": 100, "symbolStrokeWidth": 1.2, "labelAlign": "right", "labelOffset": -18.6, "labelFont": "Open Sans", "labelFontSize": 13, "labelColor": "#333333", "rowPadding": 0.7}}
   }}
 ]
}
]
}
